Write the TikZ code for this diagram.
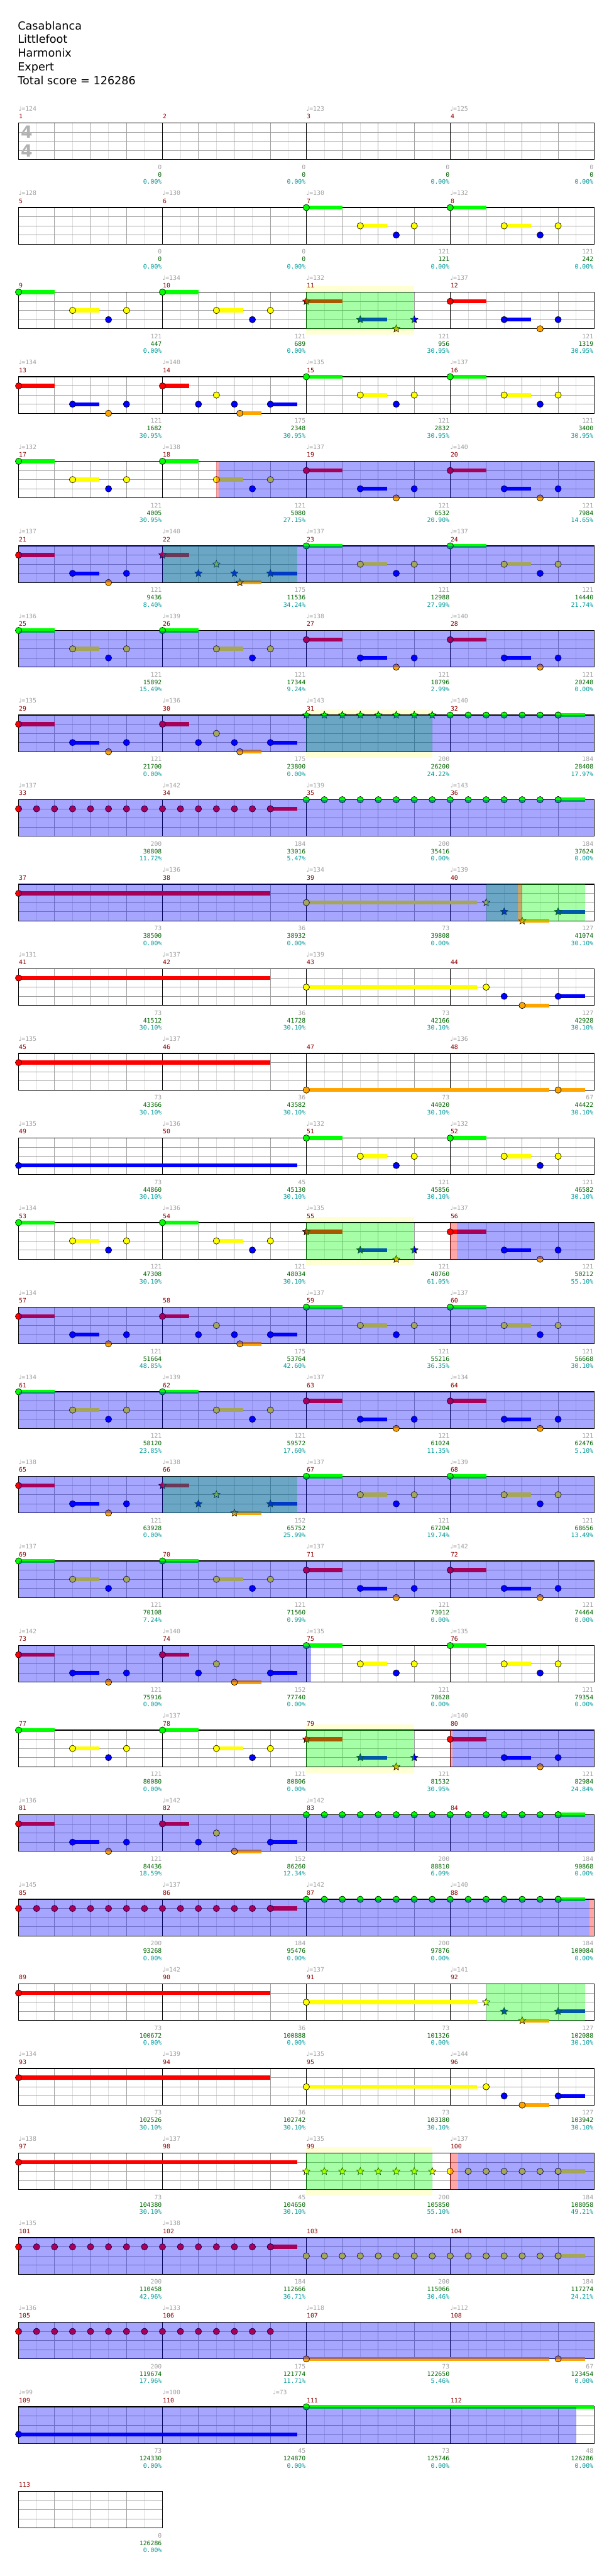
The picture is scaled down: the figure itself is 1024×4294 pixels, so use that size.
\documentclass[tikz,border=0pt]{standalone}
\usepackage{fontspec}
\setmainfont{DejaVu Sans}
\newfontfamily\chartfont{DejaVu Sans Mono}
\newfontfamily\notefont{DejaVu Sans}
\usetikzlibrary{shapes.geometric}
\definecolor{lane0}{RGB}{0,255,0}
\definecolor{lane1}{RGB}{255,0,0}
\definecolor{lane2}{RGB}{255,255,0}
\definecolor{lane3}{RGB}{0,0,255}
\definecolor{lane4}{RGB}{255,165,0}
\definecolor{gridlight}{RGB}{222,222,222}
\definecolor{griddark}{RGB}{160,160,160}
\definecolor{labelgray}{RGB}{160,160,160}
\definecolor{siggray}{RGB}{178,178,178}
\definecolor{barred}{RGB}{139,0,0}
\definecolor{scoregreen}{RGB}{0,100,0}
\definecolor{pctcyan}{RGB}{0,153,153}
\definecolor{phraseyellow}{RGB}{255,255,212}

\newcount\starcount
\tikzset{
  rowat/.style={xshift=31pt,yshift={-(205+141*#1)*1pt}},
  eighth/.style={draw=gridlight,line width=1pt},
  quarter/.style={draw=griddark,line width=1pt},
  barline/.style={draw=black,line width=1pt},
  staffedge/.style={draw=black,line width=1.3pt},
  sustain/.style={line width=6.6pt},
  starnote/.style={star,star points=5,star point ratio=2.2,draw=black,line width=.6pt,minimum size=13pt,inner sep=0pt},
  title/.style={anchor=base west,inner sep=0pt,font=\fontsize{18.5}{20}\selectfont},
  small/.style={inner sep=0pt,font=\chartfont\fontsize{10.3}{12}\selectfont},
  barnum/.style={small,anchor=base west,text=barred},
  tempo/.style={small,anchor=base west,text=labelgray},
  pts/.style={small,anchor=base east,text=labelgray},
  tot/.style={small,anchor=base east,text=scoregreen},
  pct/.style={small,anchor=base east,text=pctcyan},
  timesig/.style={inner sep=0pt,text=siggray,font=\bfseries\fontsize{28}{30}\selectfont}
}

% staff of #1 measures, origin at its top left corner
\newcommand\Staff[1]{%
  \pgfmathtruncatemacro\nEighth{8*#1-1}%
  \pgfmathtruncatemacro\nQuarter{4*#1-1}%
  \fill[white] (0,0) rectangle ({240*#1},61);
  \foreach \i in {1,...,\nEighth} \draw[eighth] ({30*\i},0) -- ++(0,61);
  \foreach \i in {1,...,\nQuarter} \draw[quarter] ({60*\i},0) -- ++(0,61);
  \foreach \i in {1,2,3} \draw[quarter] (0,{15.25*\i}) -- ++({240*#1},0);
  \ifnum#1>1 \foreach \i in {2,...,#1} \draw[barline] ({240*(\i-1)},0) -- ++(0,61);\fi
}
\newcommand\Frame[1]{\draw[staffedge] (0,0) rectangle ({240*#1},61);}

% notes: beat, lane, sustain (beats)
\newcommand\Nt[3]{%
  \ifdim#3pt>0pt \draw[sustain,draw=lane#2] ({60*(#1)},{15.25*#2}) -- ++({60*#3},0);\fi
  \filldraw[fill=lane#2,draw=black,line width=.7pt] ({60*(#1)},{15.25*#2}) circle[radius=5.3pt];
}
\newcommand\St[3]{%
  \ifdim#3pt>0pt \draw[sustain,draw=lane#2] ({60*(#1)},{15.25*#2}) -- ++({60*#3},0);\fi
  \global\advance\starcount by 1
  \node[starnote,fill=lane#2] (st\the\starcount) at ({60*(#1)},{15.25*#2}) {};
}
\newcommand\Run[4]{\foreach \b in {#1,#1.5,...,#2} {#4{\b}{#3}{0}}}

% measure figures
\newcommand\PA[2]{#2{#1}{0}{1}#2{#1+1.5}{2}{.75}#2{#1+2.5}{3}{0}#2{#1+3}{2}{0}}
\newcommand\PB[2]{#2{#1}{1}{1}#2{#1+1.5}{3}{.75}#2{#1+2.5}{4}{0}#2{#1+3}{3}{0}}
\newcommand\PC[2]{#2{#1}{1}{.75}#2{#1+1}{3}{0}#2{#1+1.5}{2}{0}#2{#1+2}{3}{0}#2{#1+2.15}{4}{.6}#2{#1+3}{3}{.75}}
\newcommand\PD[2]{#2{#1}{1}{.75}#2{#1+1}{3}{0}#2{#1+1.5}{2}{0}#2{#1+2}{4}{.75}#2{#1+3}{3}{.75}}

% shaded spans, in beats
\newcommand\Band[2]{\fill[phraseyellow] ({60*#1},-10) rectangle ({60*#2},71);}
\newcommand\Phrase[2]{\fill[lane0,fill opacity=.35] ({60*#1},0) rectangle ({60*#2},61);}
\newcommand\Boost[2]{\fill[lane3,fill opacity=.35] ({60*#1},0) rectangle ({60*#2},61);}
\newcommand\Spark[2]{\fill[lane1,fill opacity=.35] ({60*#1},0) rectangle ({60*#2},61);}

% slot in row, number, tempo, points, total, percent
\newcommand\Meas[6]{%
  \node[barnum] (bar#2) at ({240*#1+.5},-7) {#2};
  \if\relax\detokenize{#3}\relax\else
    \node[tempo] (bpm#2) at ({240*#1},-20) {{\notefont\char"2669}=#3};
  \fi
  \node[pts] (pts#2) at ({240*#1+239},77) {#4};
  \node[tot] (tot#2) at ({240*#1+239},90) {#5};
  \node[pct] (pct#2) at ({240*#1+239},102) {#6\%};
}

\begin{document}
\begin{tikzpicture}[x=1pt,y=-1pt]
\useasboundingbox (0,0) rectangle (1024,4294);
\fill[white] (0,0) rectangle (1024,4294);
\node[title] (song) at (29.5,49.3) {Casablanca};
\node[title] (artist) at (29.5,72.3) {Littlefoot};
\node[title] (charter) at (29.5,95.3) {Harmonix};
\node[title] (level) at (29.5,118.3) {Expert};
\node[title] (total) at (29.5,141.3) {Total score = 126286};

% 1-4
\begin{scope}[rowat=0]
\Staff{4}\Frame{4}
\node[timesig] (sigup) at (13.5,15) {4};
\node[timesig] (sigdown) at (13.5,46) {4};
\Meas{0}{1}{124}{0}{0}{0.00}\Meas{1}{2}{}{0}{0}{0.00}
\Meas{2}{3}{123}{0}{0}{0.00}\Meas{3}{4}{125}{0}{0}{0.00}
\end{scope}
% 5-8
\begin{scope}[rowat=1]
\Staff{4}\Frame{4}
\PA{8}\Nt \PA{12}\Nt
\Meas{0}{5}{128}{0}{0}{0.00}\Meas{1}{6}{130}{0}{0}{0.00}
\Meas{2}{7}{130}{121}{121}{0.00}\Meas{3}{8}{132}{121}{242}{0.00}
\end{scope}
% 9-12
\begin{scope}[rowat=2]
\Band{8}{11}\Staff{4}\Frame{4}
\PA{0}\Nt \PA{4}\Nt \PB{8}\St \PB{12}\Nt
\Phrase{8}{11}
\Meas{0}{9}{}{121}{447}{0.00}\Meas{1}{10}{134}{121}{689}{0.00}
\Meas{2}{11}{132}{121}{956}{30.95}\Meas{3}{12}{137}{121}{1319}{30.95}
\end{scope}
% 13-16
\begin{scope}[rowat=3]
\Staff{4}\Frame{4}
\PB{0}\Nt \PC{4}\Nt \PA{8}\Nt \PA{12}\Nt
\Meas{0}{13}{134}{121}{1682}{30.95}\Meas{1}{14}{140}{175}{2348}{30.95}
\Meas{2}{15}{135}{121}{2832}{30.95}\Meas{3}{16}{137}{121}{3400}{30.95}
\end{scope}
% 17-20
\begin{scope}[rowat=4]
\Staff{4}\Frame{4}
\PA{0}\Nt \PA{4}\Nt \PB{8}\Nt \PB{12}\Nt
\Spark{5.5}{5.57}\Boost{5.57}{16}
\Meas{0}{17}{132}{121}{4005}{30.95}\Meas{1}{18}{138}{121}{5080}{27.15}
\Meas{2}{19}{137}{121}{6532}{20.90}\Meas{3}{20}{140}{121}{7984}{14.65}
\end{scope}
% 21-24
\begin{scope}[rowat=5]
\Staff{4}\Frame{4}
\PB{0}\Nt \PC{4}\St \PA{8}\Nt \PA{12}\Nt
\Phrase{4}{7.75}\Boost{0}{16}
\Meas{0}{21}{137}{121}{9436}{8.40}\Meas{1}{22}{140}{175}{11536}{34.24}
\Meas{2}{23}{137}{121}{12988}{27.99}\Meas{3}{24}{137}{121}{14440}{21.74}
\end{scope}
% 25-28
\begin{scope}[rowat=6]
\Staff{4}\Frame{4}
\PA{0}\Nt \PA{4}\Nt \PB{8}\Nt \PB{12}\Nt
\Boost{0}{16}
\Meas{0}{25}{136}{121}{15892}{15.49}\Meas{1}{26}{139}{121}{17344}{9.24}
\Meas{2}{27}{138}{121}{18796}{2.99}\Meas{3}{28}{140}{121}{20248}{0.00}
\end{scope}
% 29-32
\begin{scope}[rowat=7]
\Band{8}{11.5}\Staff{4}\Frame{4}
\PB{0}\Nt \PC{4}\Nt \Run{8}{11.5}{0}\St \Run{12}{15}{0}\Nt \Nt{15}{0}{.75}
\Phrase{8}{11.5}\Boost{0}{16}
\Meas{0}{29}{135}{121}{21700}{0.00}\Meas{1}{30}{136}{175}{23800}{0.00}
\Meas{2}{31}{143}{200}{26200}{24.22}\Meas{3}{32}{140}{184}{28408}{17.97}
\end{scope}
% 33-36
\begin{scope}[rowat=8]
\Staff{4}\Frame{4}
\Run{0}{7}{1}\Nt \Nt{7}{1}{.75} \Run{8}{15}{0}\Nt \Nt{15}{0}{.75}
\Boost{0}{16}
\Meas{0}{33}{137}{200}{30808}{11.72}\Meas{1}{34}{142}{184}{33016}{5.47}
\Meas{2}{35}{139}{200}{35416}{0.00}\Meas{3}{36}{143}{184}{37624}{0.00}
\end{scope}
% 37-40
\begin{scope}[rowat=9]
\Staff{4}\Frame{4}
\Nt{0}{1}{7} \Nt{8}{2}{4.75} \St{13}{2}{0} \St{13.5}{3}{0} \St{14}{4}{.75} \St{15}{3}{.75}
\Phrase{13}{15.75}\Boost{0}{13.88}\Spark{13.88}{14}
\Meas{0}{37}{}{73}{38500}{0.00}\Meas{1}{38}{136}{36}{38932}{0.00}
\Meas{2}{39}{134}{73}{39808}{0.00}\Meas{3}{40}{139}{127}{41074}{30.10}
\end{scope}
% 41-44
\begin{scope}[rowat=10]
\Staff{4}\Frame{4}
\Nt{0}{1}{7} \Nt{8}{2}{4.75} \Nt{13}{2}{0} \Nt{13.5}{3}{0} \Nt{14}{4}{.75} \Nt{15}{3}{.75}
\Meas{0}{41}{131}{73}{41512}{30.10}\Meas{1}{42}{137}{36}{41728}{30.10}
\Meas{2}{43}{139}{73}{42166}{30.10}\Meas{3}{44}{}{127}{42928}{30.10}
\end{scope}
% 45-48
\begin{scope}[rowat=11]
\Staff{4}\Frame{4}
\Nt{0}{1}{7} \Nt{8}{4}{6.75} \Nt{15}{4}{.75}
\Meas{0}{45}{135}{73}{43366}{30.10}\Meas{1}{46}{137}{36}{43582}{30.10}
\Meas{2}{47}{}{73}{44020}{30.10}\Meas{3}{48}{136}{67}{44422}{30.10}
\end{scope}
% 49-52
\begin{scope}[rowat=12]
\Staff{4}\Frame{4}
\Nt{0}{3}{7.75} \PA{8}\Nt \PA{12}\Nt
\Meas{0}{49}{135}{73}{44860}{30.10}\Meas{1}{50}{136}{45}{45130}{30.10}
\Meas{2}{51}{132}{121}{45856}{30.10}\Meas{3}{52}{132}{121}{46582}{30.10}
\end{scope}
% 53-56
\begin{scope}[rowat=13]
\Band{8}{11}\Staff{4}\Frame{4}
\PA{0}\Nt \PA{4}\Nt \PB{8}\St \PB{12}\Nt
\Phrase{8}{11}\Spark{12}{12.18}\Boost{12.18}{16}
\Meas{0}{53}{134}{121}{47308}{30.10}\Meas{1}{54}{136}{121}{48034}{30.10}
\Meas{2}{55}{135}{121}{48760}{61.05}\Meas{3}{56}{137}{121}{50212}{55.10}
\end{scope}
% 57-60
\begin{scope}[rowat=14]
\Staff{4}\Frame{4}
\PB{0}\Nt \PC{4}\Nt \PA{8}\Nt \PA{12}\Nt
\Boost{0}{16}
\Meas{0}{57}{134}{121}{51664}{48.85}\Meas{1}{58}{}{175}{53764}{42.60}
\Meas{2}{59}{137}{121}{55216}{36.35}\Meas{3}{60}{137}{121}{56668}{30.10}
\end{scope}
% 61-64
\begin{scope}[rowat=15]
\Staff{4}\Frame{4}
\PA{0}\Nt \PA{4}\Nt \PB{8}\Nt \PB{12}\Nt
\Boost{0}{16}
\Meas{0}{61}{134}{121}{58120}{23.85}\Meas{1}{62}{139}{121}{59572}{17.60}
\Meas{2}{63}{137}{121}{61024}{11.35}\Meas{3}{64}{134}{121}{62476}{5.10}
\end{scope}
% 65-68
\begin{scope}[rowat=16]
\Staff{4}\Frame{4}
\PB{0}\Nt \PD{4}\St \PA{8}\Nt \PA{12}\Nt
\Phrase{4}{7.75}\Boost{0}{16}
\Meas{0}{65}{138}{121}{63928}{0.00}\Meas{1}{66}{138}{152}{65752}{25.99}
\Meas{2}{67}{137}{121}{67204}{19.74}\Meas{3}{68}{139}{121}{68656}{13.49}
\end{scope}
% 69-72
\begin{scope}[rowat=17]
\Staff{4}\Frame{4}
\PA{0}\Nt \PA{4}\Nt \PB{8}\Nt \PB{12}\Nt
\Boost{0}{16}
\Meas{0}{69}{137}{121}{70108}{7.24}\Meas{1}{70}{}{121}{71560}{0.99}
\Meas{2}{71}{137}{121}{73012}{0.00}\Meas{3}{72}{142}{121}{74464}{0.00}
\end{scope}
% 73-76
\begin{scope}[rowat=18]
\Staff{4}\Frame{4}
\PB{0}\Nt \PD{4}\Nt \PA{8}\Nt \PA{12}\Nt
\Boost{0}{8.13}
\Meas{0}{73}{142}{121}{75916}{0.00}\Meas{1}{74}{140}{152}{77740}{0.00}
\Meas{2}{75}{135}{121}{78628}{0.00}\Meas{3}{76}{135}{121}{79354}{0.00}
\end{scope}
% 77-80
\begin{scope}[rowat=19]
\Band{8}{11}\Staff{4}\Frame{4}
\PA{0}\Nt \PA{4}\Nt \PB{8}\St \PB{12}\Nt
\Phrase{8}{11}\Spark{12}{12.07}\Boost{12.07}{16}
\Meas{0}{77}{}{121}{80080}{0.00}\Meas{1}{78}{137}{121}{80806}{0.00}
\Meas{2}{79}{}{121}{81532}{30.95}\Meas{3}{80}{140}{121}{82984}{24.84}
\end{scope}
% 81-84
\begin{scope}[rowat=20]
\Staff{4}\Frame{4}
\PB{0}\Nt \PD{4}\Nt \Run{8}{15}{0}\Nt \Nt{15}{0}{.75}
\Boost{0}{16}
\Meas{0}{81}{136}{121}{84436}{18.59}\Meas{1}{82}{142}{152}{86260}{12.34}
\Meas{2}{83}{142}{200}{88810}{6.09}\Meas{3}{84}{}{184}{90868}{0.00}
\end{scope}
% 85-88
\begin{scope}[rowat=21]
\Staff{4}\Frame{4}
\Run{0}{7}{1}\Nt \Nt{7}{1}{.75} \Run{8}{15}{0}\Nt \Nt{15}{0}{.75}
\Boost{0}{15.88}\Spark{15.88}{16}
\Meas{0}{85}{145}{200}{93268}{0.00}\Meas{1}{86}{137}{184}{95476}{0.00}
\Meas{2}{87}{142}{200}{97876}{0.00}\Meas{3}{88}{140}{184}{100084}{0.00}
\end{scope}
% 89-92
\begin{scope}[rowat=22]
\Staff{4}\Frame{4}
\Nt{0}{1}{7} \Nt{8}{2}{4.75} \St{13}{2}{0} \St{13.5}{3}{0} \St{14}{4}{.75} \St{15}{3}{.75}
\Phrase{13}{15.75}
\Meas{0}{89}{}{73}{100672}{0.00}\Meas{1}{90}{142}{36}{100888}{0.00}
\Meas{2}{91}{137}{73}{101326}{0.00}\Meas{3}{92}{141}{127}{102088}{30.10}
\end{scope}
% 93-96
\begin{scope}[rowat=23]
\Staff{4}\Frame{4}
\Nt{0}{1}{7} \Nt{8}{2}{4.75} \Nt{13}{2}{0} \Nt{13.5}{3}{0} \Nt{14}{4}{.75} \Nt{15}{3}{.75}
\Meas{0}{93}{134}{73}{102526}{30.10}\Meas{1}{94}{139}{36}{102742}{30.10}
\Meas{2}{95}{135}{73}{103180}{30.10}\Meas{3}{96}{144}{127}{103942}{30.10}
\end{scope}
% 97-100
\begin{scope}[rowat=24]
\Band{8}{11.5}\Staff{4}\Frame{4}
\Nt{0}{1}{7.75} \Run{8}{11.5}{2}\St \Run{12}{15}{2}\Nt \Nt{15}{2}{.75}
\Phrase{8}{11.5}\Spark{12}{12.22}\Boost{12.22}{16}
\Meas{0}{97}{138}{73}{104380}{30.10}\Meas{1}{98}{137}{45}{104650}{30.10}
\Meas{2}{99}{135}{200}{105850}{55.10}\Meas{3}{100}{137}{184}{108058}{49.21}
\end{scope}
% 101-104
\begin{scope}[rowat=25]
\Staff{4}\Frame{4}
\Run{0}{7}{1}\Nt \Nt{7}{1}{.75} \Run{8}{15}{2}\Nt \Nt{15}{2}{.75}
\Boost{0}{16}
\Meas{0}{101}{135}{200}{110458}{42.96}\Meas{1}{102}{138}{184}{112666}{36.71}
\Meas{2}{103}{}{200}{115066}{30.46}\Meas{3}{104}{}{184}{117274}{24.21}
\end{scope}
% 105-108
\begin{scope}[rowat=26]
\Staff{4}\Frame{4}
\Run{0}{7}{1}\Nt \Nt{8}{4}{6.75} \Nt{15}{4}{.75}
\Boost{0}{16}
\Meas{0}{105}{136}{200}{119674}{17.96}\Meas{1}{106}{133}{175}{121774}{11.71}
\Meas{2}{107}{118}{73}{122650}{5.46}\Meas{3}{108}{112}{67}{123454}{0.00}
\end{scope}
% 109-112
\begin{scope}[rowat=27]
\Staff{4}\Frame{4}
\Nt{0}{3}{7.75} \Nt{8}{0}{8}
\Boost{0}{15.5}
\node[tempo] (bpm110b) at (424,-20) {{\notefont\char"2669}=73};
\Meas{0}{109}{99}{73}{124330}{0.00}\Meas{1}{110}{100}{45}{124870}{0.00}
\Meas{2}{111}{}{73}{125746}{0.00}\Meas{3}{112}{}{48}{126286}{0.00}
\end{scope}
% 113
\begin{scope}[rowat=28]
\Staff{1}\Frame{1}
\Meas{0}{113}{}{0}{126286}{0.00}
\end{scope}
\end{tikzpicture}
\end{document}
